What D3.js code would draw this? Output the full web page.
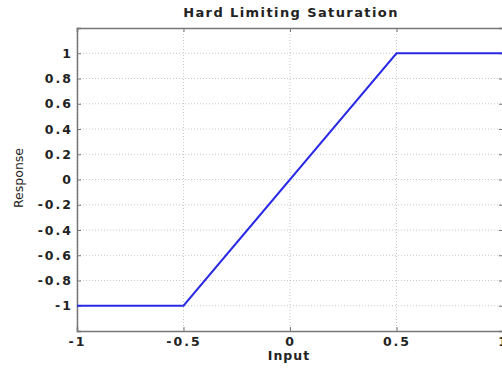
<!DOCTYPE html>
<html>
<head>
<meta charset="utf-8">
<script src="https://cdn.jsdelivr.net/npm/d3@7"></script>
<style>
body{margin:0;background:#fff;}
text{font-family:"DejaVu Sans",sans-serif;font-weight:bold;fill:#222;}
</style>
</head>
<body>
<svg id="chart"></svg>
<script>
// hard limiting saturation curve
var inputs=[-1,-0.5,0.5,1]
var responses=[-1,-1,1,1]
var xTicks=[-1,-0.5,0,0.5,1]
var yTicks=[-1,-0.8,-0.6,-0.4,-0.2,0,0.2,0.4,0.6,0.8,1]

var screen={width:502,height:369}
var plot={left:77,right:503,top:28,bottom:331}

var svg=d3.select("#chart")
          .attr("width",screen.width)
          .attr("height",screen.height);

var x=d3.scaleLinear().domain([-1,1]).range([plot.left,plot.right])
var y=d3.scaleLinear().domain([-1.2,1.2]).range([plot.bottom,plot.top])

var fmt=function(d){return Math.abs(d)<1e-9?"0":String(+d.toFixed(1));}

// grid
svg.append("g").selectAll("line")
   .data(xTicks)
   .enter().append("line")
   .attr("x1",function(d){return x(d);})
   .attr("x2",function(d){return x(d);})
   .attr("y1",plot.top).attr("y2",plot.bottom)
   .attr("stroke","#c8c8c8").attr("stroke-dasharray","1,2");
svg.append("g").selectAll("line")
   .data(yTicks)
   .enter().append("line")
   .attr("x1",plot.left).attr("x2",plot.right)
   .attr("y1",function(d){return y(d);})
   .attr("y2",function(d){return y(d);})
   .attr("stroke","#c8c8c8").attr("stroke-dasharray","1,2");

// axes, ticks pointing inward
svg.append("g")
   .attr("class","lab")
   .attr("transform","translate(0,"+plot.bottom+")")
   .call(d3.axisBottom(x).tickValues(xTicks).tickSize(-4).tickPadding(6).tickFormat(fmt));
svg.append("g")
   .attr("class","lab")
   .attr("transform","translate("+plot.left+",0)")
   .call(d3.axisLeft(y).tickValues(yTicks).tickSize(-4).tickPadding(4).tickFormat(fmt));
svg.append("g")
   .attr("transform","translate("+plot.right+",0)")
   .call(d3.axisRight(y).tickValues(yTicks).tickSize(-4).tickFormat(""));
svg.append("g")
   .attr("transform","translate(0,"+plot.top+")")
   .call(d3.axisTop(x).tickValues(xTicks).tickSize(-4).tickFormat(""));

svg.selectAll(".domain").attr("stroke","#777").attr("stroke-width",1.5);
svg.selectAll(".tick line").attr("stroke","#777");
svg.selectAll(".lab .tick text").attr("font-size",12.5).attr("fill","#222")
   .style("font-family","'DejaVu Sans',sans-serif").style("font-weight","bold")
   .style("letter-spacing","2px");

// curve
var line=d3.line()
           .x(function(d,i){return x(inputs[i]);})
           .y(function(d){return y(d);});
svg.append("path")
   .datum(responses)
   .attr("d",line)
   .attr("fill","none")
   .attr("stroke","#2a2ae6")
   .attr("stroke-width",2);

// labels
svg.append("text").text("Hard Limiting Saturation")
   .attr("x",291).attr("y",17).attr("text-anchor","middle").attr("font-size",13)
   .style("letter-spacing","1.4px");
svg.append("text").text("Input")
   .attr("x",289).attr("y",360).attr("text-anchor","middle").attr("font-size",12.5)
   .style("letter-spacing","1px");
svg.append("text").text("Response")
   .attr("transform","translate(23,178) rotate(-90)")
   .attr("text-anchor","middle").attr("font-size",12.5).style("font-weight","normal");
</script>
</body>
</html>
